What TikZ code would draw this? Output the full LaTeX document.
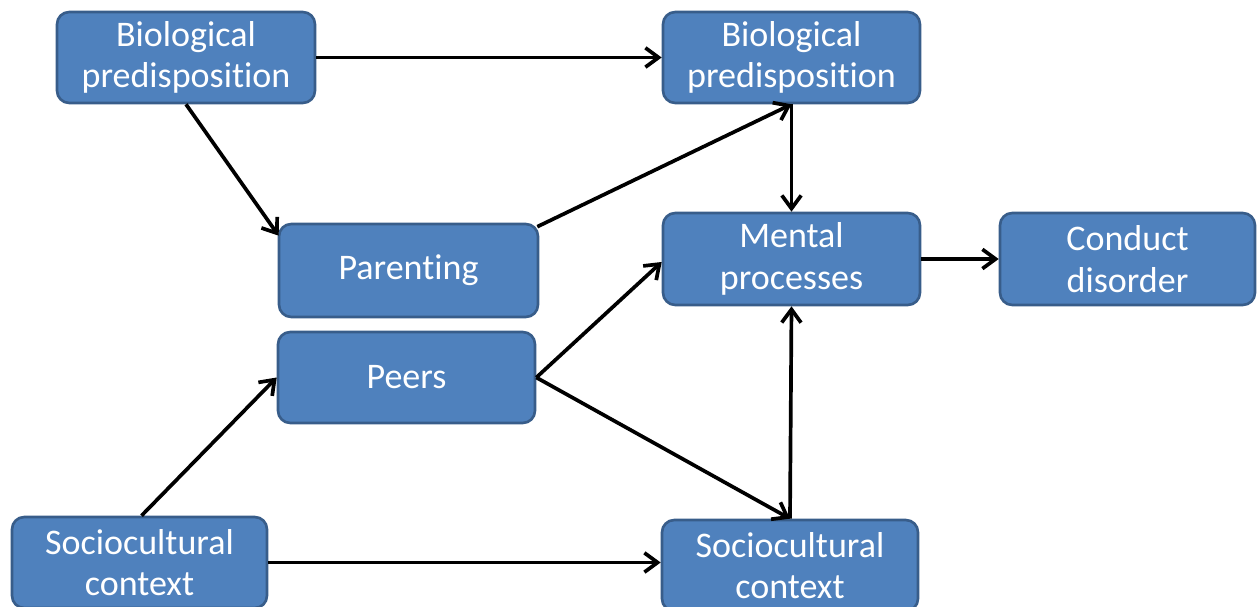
\documentclass[tikz,border=0pt]{standalone}
\usepackage{fontspec}
\setmainfont{Carlito}[Ligatures={NoCommon,NoContextual},RawFeature={-liga;-clig;-dlig;-calt}]
\usetikzlibrary{calc,arrows.meta}
\definecolor{boxfill}{HTML}{4F81BD}
\definecolor{boxline}{HTML}{385D8A}
\tikzset{
  box/.style={draw=boxline, line width=1.5pt, fill=boxfill, rounded corners=7pt,
    text=white, align=center, inner sep=0pt,
    font=\fontsize{20.5pt}{23.5pt}\selectfont},
  link/.style={draw=black, line width=2.1pt,
    -{Straight Barb[length=7.5pt,width=11pt,line width=2.1pt]}}
}
\begin{document}
\begin{tikzpicture}[x=0.02cm,y=-0.02cm]
\useasboundingbox (0,0) rectangle (1257,607);
\begin{scope}
\clip (0,0) rectangle (1257,607);
\node[box, minimum width=258*0.02cm, minimum height=91*0.02cm] (bp1) at (186,57.5) {Biological\\predisposition};
\node[box, minimum width=257*0.02cm, minimum height=91*0.02cm] (bp2) at (791.5,57.5) {Biological\\predisposition};
\node[box, minimum width=259*0.02cm, minimum height=93*0.02cm] (par) at (408.5,270.5) {Parenting};
\node[box, minimum width=257*0.02cm, minimum height=91*0.02cm] (peer) at (406.5,377.5) {Peers};
\node[box, minimum width=257*0.02cm, minimum height=92*0.02cm] (men) at (791.5,259) {Mental\\processes};
\node[box, minimum width=255*0.02cm, minimum height=92*0.02cm] (con) at (1127.5,259) {Conduct\\disorder};
\node[box, minimum width=255*0.02cm, minimum height=91*0.02cm] (sc1) at (139.5,562.5) {Sociocultural\\context};
\node[box, minimum width=256*0.02cm, minimum height=91*0.02cm] (sc2) at (790,565.5) {Sociocultural\\context};
\end{scope}
% connections
\draw[link] (bp1.east) -- (bp2.west);
\draw[link] (bp1.south) -- ($(par.north west)+(1,13)$);
\draw[link] ($(par.north east)+(-2,4)$) -- (bp2.south);
\draw[link] (bp2.south) -- (men.north);
\draw[link] (men.east) -- (con.west);
\draw[link] (peer.east) -- ($(men.west)+(0,3)$);
\draw[link] (peer.east) -- (sc2.north);
\draw[link] (sc2.north) -- (men.south);
\draw[link] ($(sc1.north)+(2,0)$) -- (peer.west);
\draw[link] (sc1.east) -- (sc1.east -| sc2.west);
\end{tikzpicture}
\end{document}
